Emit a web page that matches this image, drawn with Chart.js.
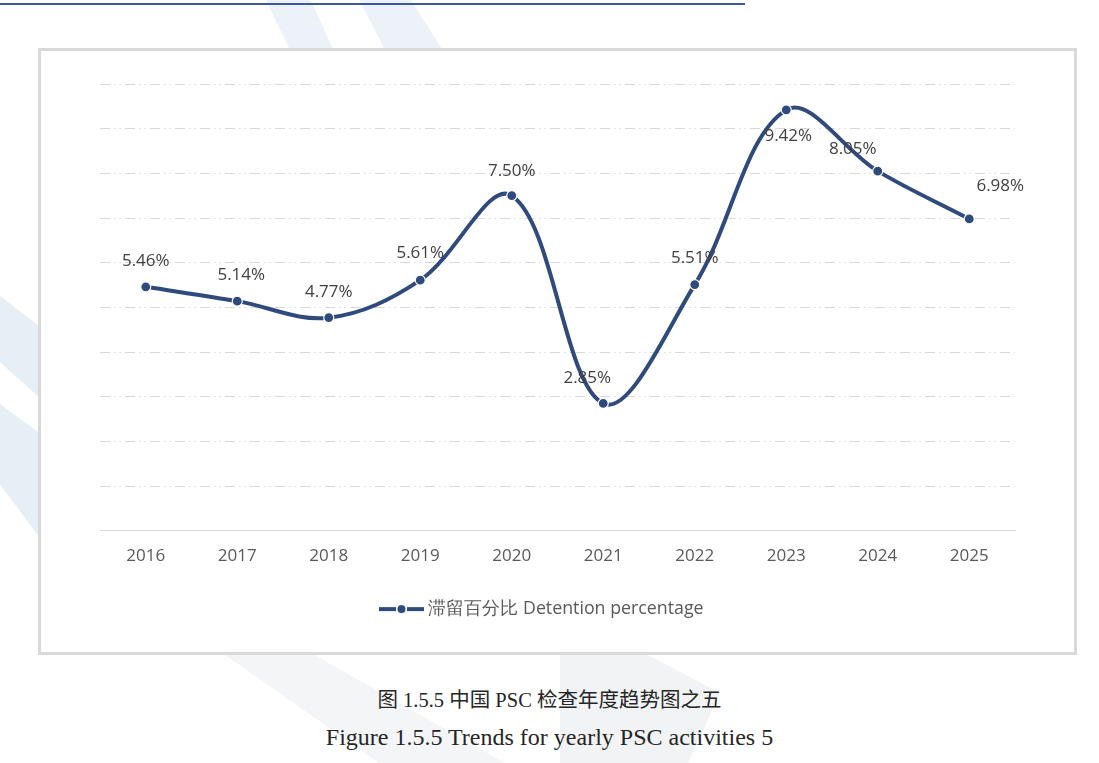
<!DOCTYPE html>
<html>
<head>
<meta charset="utf-8">
<script src="https://cdn.jsdelivr.net/npm/chart.js@4.4.0/dist/chart.umd.min.js"></script>
<style>
  body { margin:0; background:#fff; width:1099px; height:763px; overflow:hidden; position:relative; }
  .topline { position:absolute; left:0; top:3px; width:745px; height:2px; background:#3b5998; }
  .wm { position:absolute; background:#edf2f8; }
  .box { position:absolute; left:38px; top:48px; width:1039px; height:607px; border:3px solid #d9d9d9; box-sizing:border-box; background:#fff; }
  .box canvas { display:block; }
  .cap { position:absolute; left:0; width:1099px; text-align:center; color:#262626;
         font-family:"Liberation Serif","Noto Sans CJK SC",serif; }
</style>
</head>
<body>
<div class="wm" style="left:250px;top:0;width:160px;height:60px;clip-path:polygon(10% 0,38% 0,55% 100%,28% 100%)"></div>
<div class="wm" style="left:350px;top:0;width:160px;height:60px;clip-path:polygon(6% 0,38% 0,62% 100%,25% 100%)"></div>
<div class="wm" style="left:0;top:296px;width:40px;height:102px;background:#e6eef6;clip-path:polygon(0 0,100% 30%,100% 100%,0 65%)"></div>
<div class="wm" style="left:0;top:404px;width:40px;height:134px;background:#e6eef6;clip-path:polygon(0 0,100% 22%,100% 100%,0 60%)"></div>
<div class="wm" style="left:225px;top:655px;width:280px;height:108px;background:#f4f5f7;clip-path:polygon(0 0,32% 0,100% 100%,55% 100%)"></div>
<div class="wm" style="left:560px;top:655px;width:160px;height:108px;background:#f2f3f5;clip-path:polygon(0 0,55% 0,100% 35%,80% 100%,0 100%)"></div>
<div class="topline"></div>
<div class="box"><canvas id="c" width="1033" height="601"></canvas></div>
<div class="cap" style="top:683px;font-size:20.5px;">图 1.5.5 中国 PSC 检查年度趋势图之五</div>
<div class="cap" style="top:724px;font-size:24px;">Figure 1.5.5 Trends for yearly PSC activities 5</div>
<script>
const years = ['2016','2017','2018','2019','2020','2021','2022','2023','2024','2025'];
const detention = [5.46, 5.14, 4.77, 5.61, 7.50, 2.85, 5.51, 9.42, 8.05, 6.98];
const seriesName = '滞留百分比 Detention percentage';

const navy = '#2f4a7c';

// legend icon: line - dot - line
const icon = document.createElement('canvas');
icon.width = 45; icon.height = 10;
const ic = icon.getContext('2d');
ic.strokeStyle = navy; ic.lineWidth = 4;
ic.beginPath(); ic.moveTo(0,5); ic.lineTo(17,5); ic.moveTo(28,5); ic.lineTo(45,5); ic.stroke();
ic.fillStyle = navy; ic.beginPath(); ic.arc(22.5,5,4,0,Math.PI*2); ic.fill();

// value labels, placed like the original
const valueLabels = {
  id: 'valueLabels',
  afterLayout(chart) {
    // legend sits a bit left of centre in the original
    chart.legend.left -= 14;
    chart.legend.right -= 14;
  },
  afterDatasetsDraw(chart, args, opts) {
    const ctx = chart.ctx;
    const meta = chart.getDatasetMeta(0);
    ctx.save();
    ctx.font = '17px "Open Sans"';
    ctx.fillStyle = '#404040';
    ctx.textAlign = 'center';
    ctx.textBaseline = 'middle';
    meta.data.forEach((pt, i) => {
      const o = opts.offsets[i] || [0,-26];
      ctx.fillText(detention[i].toFixed(2) + '%', pt.x + o[0], pt.y + o[1]);
    });
    ctx.restore();
  }
};

Chart.defaults.font.family = '"Open Sans"';
Chart.defaults.color = '#595959';

new Chart(document.getElementById('c'), {
  type: 'line',
  data: {
    labels: years,
    datasets: [{
      label: seriesName,
      data: detention,
      borderColor: navy,
      backgroundColor: navy,
      borderWidth: 4,
      pointRadius: 5,
      pointBackgroundColor: navy,
      pointBorderColor: '#ffffff',
      pointBorderWidth: 1.2,
      tension: 0.36
    }]
  },
  options: {
    responsive: false,
    animation: false,
    layout: { padding: { left: 59, right: 59, top: 33, bottom: 24 } },
    scales: {
      x: {
        offset: true,
        grid: { display: false, drawTicks: false },
        border: { display: true, color: '#d9d9d9', width: 1 },
        ticks: { font: { size: 17 }, color: '#595959', padding: 15 },
        afterFit: s => { s.height += 9; }
      },
      y: {
        min: 0, max: 10,
        ticks: { display: false, stepSize: 1 },
        grid: { color: ctx => ctx.tick.value === 0 ? 'rgba(0,0,0,0)' : '#d9d9d9', lineWidth: 1, drawTicks: false },
        border: { display: false, dash: [10, 4, 1.5, 4, 1.5, 4] }
      }
    },
    plugins: {
      legend: {
        position: 'bottom',
        labels: {
          usePointStyle: true,
          pointStyle: icon,
          pointStyleWidth: 36,
          font: { size: 17.8 },
          color: '#595959',
          padding: 10
        }
      },
      tooltip: { enabled: false },
      valueLabels: {
        offsets: [[0,-26],[4,-26],[0,-26],[0,-27],[0,-25],[-16,-25],[0,-26],[2,26],[-25,-22],[31,-33]]
      }
    }
  },
  plugins: [valueLabels]
});
</script>
</body>
</html>
